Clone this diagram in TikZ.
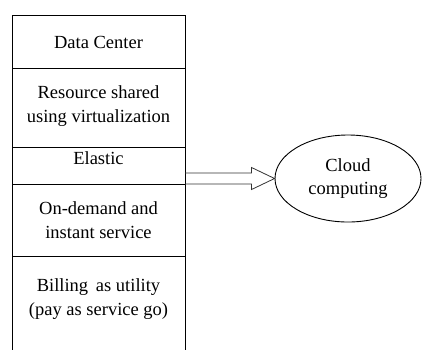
\documentclass[tikz,border=0pt]{standalone}
\usepackage{fontspec}
\setmainfont{Liberation Serif}
\usetikzlibrary{shapes.geometric,calc}

\tikzset{
  rowtext/.style={align=center,inner sep=0pt},
  cloudnode/.style={ellipse,draw,minimum width=146pt,minimum height=87pt,align=center,inner sep=0pt}
}

\begin{document}
\begin{tikzpicture}[x=1pt,y=-1pt,font=\fontsize{18.5}{23.5}\selectfont,line width=0.9pt]
\useasboundingbox (0,0) rectangle (422,349);

% Column of properties, open at the bottom.
\draw (12,360) -- (12,15) -- (185,15) -- (185,360);
\foreach \y in {68,147,184,256}{
  \draw (12,\y) -- (185,\y);
}
\node[rowtext] (dc) at (98.5,42) {Data Center};
\node[rowtext] (shared) at (98.5,106) {Resource shared\\using virtualization};
\node[rowtext] (elastic) at (98.5,158) {Elastic};
\node[rowtext] (demand) at (98.5,220) {On-demand and\\instant service};
\node[rowtext] (billing) at (98.5,299) {Billing\, as utility\\(pay as service go)};

% Target ellipse.
\node[cloudnode] (cloud) at (348,178.5) {Cloud\\computing};
\coordinate (arrowstart) at (185,178.5);

% Hollow block arrow.
\draw[line width=0.8pt,black!80]
  ($(arrowstart)+(0,-5.5)$) -- ($(cloud.west)+(-23,-5.5)$) -- ($(cloud.west)+(-23,-11)$)
  -- (cloud.west)
  -- ($(cloud.west)+(-23,11)$) -- ($(cloud.west)+(-23,5.5)$) -- ($(arrowstart)+(0,5.5)$);
\end{tikzpicture}
\end{document}
